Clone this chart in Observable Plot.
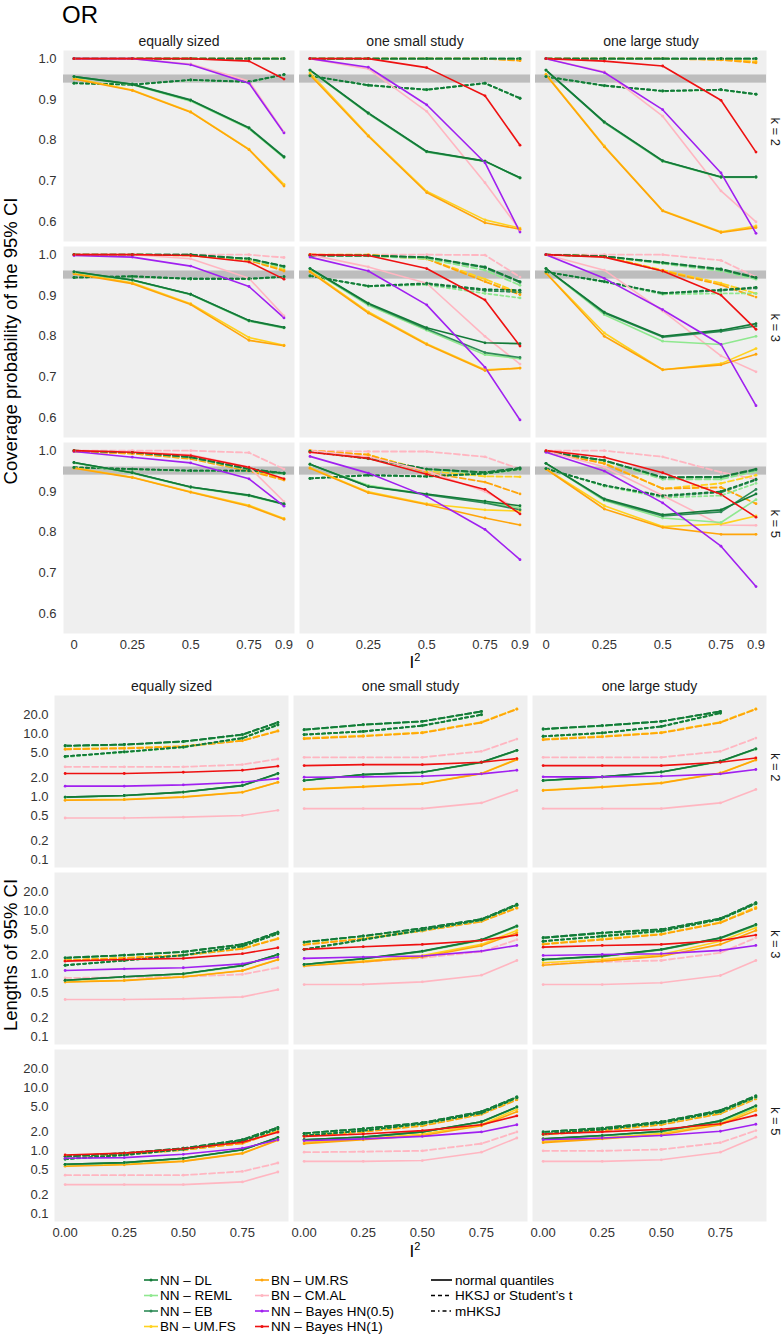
<!DOCTYPE html>
<html><head><meta charset="utf-8">
<script src="https://cdn.jsdelivr.net/npm/d3@7"></script>
<script src="https://cdn.jsdelivr.net/npm/@observablehq/plot@0.6"></script>
<style>
body{margin:0;background:#fff;font-family:"Liberation Sans",Arial,Helvetica,sans-serif;color:#000;}
#wrap{position:relative;width:782px;height:1342px;overflow:hidden;}
#wrap > *{position:absolute;}
.ytitle{font-size:18.5px;white-space:nowrap;transform:translate(-50%,-50%) rotate(-90deg);}
.xtitle{font-size:17px;transform:translate(-50%,-50%);}
.xtitle sup{font-size:11px;}
</style></head><body><div id="wrap"></div>
<script>
// ---------- categories ----------
const designs = ["equally sized", "one small study", "one large study"];
const ks = [2, 3, 5];
const i2 = [0, 0.25, 0.5, 0.75, 0.9];
const methods = ["DL", "REML", "EB", "FS", "RS", "AL", "H05", "H1"];
const methodLabels = ["NN – DL", "NN – REML", "NN – EB", "BN – UM.FS", "BN – UM.RS", "BN – CM.AL", "NN – Bayes HN(0.5)", "NN – Bayes HN(1)"];
const ciTypes = ["n", "h", "m"];
const ciTypeLabels = ["normal quantiles", "HKSJ or Student’s t", "mHKSJ"];
const covTicks = [0.6, 0.7, 0.8, 0.9, 1.0];
const lenTicks = [0.1, 0.2, 0.5, 1, 2, 5, 10, 20];
const covXTicks = [0, 0.25, 0.5, 0.75, 0.9];
const lenXTicks = [0, 0.25, 0.5, 0.75];
const refBand = [{lo: 0.94, hi: 0.96}];

// ---------- coverage probability: [method, CI type, I2=0, .25, .5, .75, .9] ----------
const covES2 = [
  ["DL","n",0.956,0.937,0.898,0.830,0.759],["REML","n",0.955,0.936,0.896,0.828,0.757],["EB","n",0.956,0.938,0.899,0.831,0.760],
  ["DL","h",1,1,1,1,1],["REML","h",1,1,1,1,1],["EB","h",1,1,1,1,1],
  ["DL","m",0.940,0.936,0.948,0.943,0.961],["REML","m",0.940,0.936,0.947,0.943,0.960],["EB","m",0.940,0.937,0.948,0.944,0.961],
  ["FS","n",0.952,0.923,0.870,0.778,0.692],["RS","n",0.950,0.922,0.869,0.777,0.688],
  ["FS","h",1,1,1,1,1],["RS","h",1,1,1,1,1],
  ["AL","n",1,1,0.987,0.945,0.820],["AL","h",1,1,1,1,1],
  ["H05","n",1,1,0.985,0.940,0.818],["H1","n",1,1,1,0.994,0.950]];
const covSS2 = [
  ["DL","n",0.972,0.867,0.773,0.749,0.708],["REML","n",0.971,0.865,0.771,0.748,0.707],["EB","n",0.972,0.866,0.772,0.749,0.708],
  ["DL","h",1,1,1,1,1],["REML","h",1,1,1,1,1],["EB","h",1,1,1,1,1],
  ["DL","m",0.958,0.935,0.924,0.940,0.903],["REML","m",0.958,0.934,0.923,0.939,0.902],["EB","m",0.958,0.935,0.924,0.940,0.903],
  ["FS","n",0.965,0.812,0.675,0.605,0.585],["RS","n",0.960,0.810,0.672,0.598,0.582],
  ["FS","h",1,1,1,1,0.997],["RS","h",1,1,1,1,0.995],
  ["AL","n",1,0.975,0.871,0.696,0.580],["AL","h",1,1,1,1,0.998],
  ["H05","n",1,0.979,0.887,0.745,0.575],["H1","n",1,1,0.978,0.909,0.788]];
const covLS2 = [
  ["DL","n",0.972,0.845,0.750,0.710,0.710],["REML","n",0.971,0.843,0.748,0.709,0.709],["EB","n",0.972,0.844,0.749,0.710,0.710],
  ["DL","h",1,1,1,1,1],["REML","h",1,1,1,1,1],["EB","h",1,1,1,1,1],
  ["DL","m",0.956,0.934,0.921,0.924,0.913],["REML","m",0.956,0.933,0.920,0.923,0.912],["EB","m",0.956,0.934,0.921,0.924,0.913],
  ["FS","n",0.962,0.786,0.628,0.576,0.590],["RS","n",0.960,0.784,0.627,0.574,0.586],
  ["FS","h",1,1,1,0.998,0.993],["RS","h",1,1,1,0.997,0.990],
  ["AL","n",1,0.968,0.859,0.676,0.600],["AL","h",1,1,1,1,0.998],
  ["H05","n",1,0.966,0.875,0.720,0.572],["H1","n",1,0.994,0.982,0.898,0.771]];
const covES3 = [
  ["DL","n",0.958,0.938,0.903,0.839,0.822],["REML","n",0.957,0.937,0.902,0.837,0.820],["EB","n",0.958,0.938,0.903,0.838,0.821],
  ["DL","h",1,1,1,0.990,0.972],["REML","h",1,1,0.999,0.988,0.968],["EB","h",1,1,1,0.990,0.971],
  ["DL","m",0.944,0.947,0.941,0.941,0.946],["REML","m",0.944,0.946,0.940,0.940,0.945],["EB","m",0.944,0.947,0.941,0.941,0.946],
  ["FS","n",0.955,0.931,0.880,0.797,0.778],["RS","n",0.953,0.929,0.878,0.790,0.777],
  ["FS","h",1,1,0.999,0.988,0.963],["RS","h",1,1,0.998,0.986,0.960],
  ["AL","n",1,1,0.990,0.942,0.850],["AL","h",1,1,1,1,0.993],
  ["H05","n",0.998,0.994,0.972,0.922,0.845],["H1","n",1,1,0.998,0.982,0.940]];
const covSS3 = [
  ["DL","n",0.966,0.881,0.821,0.784,0.782],["REML","n",0.965,0.876,0.815,0.755,0.745],["EB","n",0.966,0.879,0.818,0.760,0.748],
  ["DL","h",0.998,0.998,0.994,0.970,0.934],["REML","h",0.998,0.997,0.990,0.962,0.925],["EB","h",0.998,0.998,0.993,0.968,0.932],
  ["DL","m",0.948,0.923,0.930,0.915,0.913],["REML","m",0.948,0.922,0.926,0.905,0.894],["EB","m",0.948,0.923,0.928,0.912,0.908],
  ["FS","n",0.960,0.860,0.782,0.718,0.722],["RS","n",0.958,0.857,0.780,0.716,0.722],
  ["FS","h",1,1,0.990,0.940,0.906],["RS","h",1,0.998,0.990,0.934,0.902],
  ["AL","n",1,0.970,0.930,0.800,0.732],["AL","h",1,1,1,0.999,0.945],
  ["H05","n",0.994,0.960,0.877,0.724,0.595],["H1","n",1,0.998,0.966,0.889,0.776]];
const covLS3 = [
  ["DL","n",0.966,0.859,0.800,0.815,0.831],["REML","n",0.966,0.853,0.788,0.780,0.800],["EB","n",0.966,0.857,0.798,0.812,0.825],
  ["DL","h",1,0.996,0.981,0.965,0.944],["REML","h",1,0.995,0.978,0.960,0.940],["EB","h",1,0.996,0.980,0.963,0.943],
  ["DL","m",0.958,0.934,0.906,0.914,0.920],["REML","m",0.958,0.933,0.903,0.905,0.905],["EB","m",0.958,0.934,0.905,0.912,0.918],
  ["FS","n",0.955,0.808,0.718,0.733,0.770],["RS","n",0.955,0.800,0.718,0.730,0.756],
  ["FS","h",1,0.996,0.962,0.930,0.905],["RS","h",1,0.996,0.960,0.926,0.896],
  ["AL","n",1,0.962,0.862,0.752,0.713],["AL","h",1,1,1,0.986,0.945],
  ["H05","n",1,0.942,0.865,0.780,0.630],["H1","n",1,0.994,0.960,0.901,0.817]];
const covES5 = [
  ["DL","n",0.971,0.946,0.911,0.891,0.869],["REML","n",0.970,0.945,0.910,0.889,0.868],["EB","n",0.971,0.946,0.911,0.890,0.870],
  ["DL","h",1,0.996,0.984,0.955,0.945],["REML","h",1,0.996,0.983,0.953,0.943],["EB","h",1,0.996,0.984,0.955,0.944],
  ["DL","m",0.959,0.955,0.951,0.951,0.945],["REML","m",0.959,0.954,0.950,0.950,0.944],["EB","m",0.959,0.955,0.951,0.951,0.945],
  ["FS","n",0.958,0.935,0.899,0.866,0.834],["RS","n",0.957,0.934,0.898,0.864,0.832],
  ["FS","h",0.998,0.993,0.982,0.953,0.930],["RS","h",0.998,0.993,0.980,0.950,0.928],
  ["AL","n",1,0.998,0.990,0.960,0.875],["AL","h",1,1,1,0.995,0.955],
  ["H05","n",0.998,0.984,0.970,0.931,0.864],["H1","n",1,0.996,0.988,0.959,0.931]];
const covSS5 = [
  ["DL","n",0.967,0.912,0.894,0.876,0.865],["REML","n",0.966,0.915,0.893,0.874,0.860],["EB","n",0.967,0.912,0.892,0.872,0.855],
  ["DL","h",0.998,0.981,0.955,0.947,0.958],["REML","h",0.998,0.980,0.953,0.944,0.955],["EB","h",0.998,0.981,0.955,0.946,0.957],
  ["DL","m",0.932,0.940,0.937,0.944,0.955],["REML","m",0.932,0.939,0.936,0.943,0.954],["EB","m",0.932,0.940,0.937,0.944,0.955],
  ["FS","n",0.958,0.899,0.870,0.855,0.852],["RS","n",0.957,0.897,0.868,0.835,0.818],
  ["FS","h",1,0.990,0.951,0.937,0.936],["RS","h",1,0.990,0.947,0.923,0.894],
  ["AL","n",1,0.985,0.950,0.900,0.855],["AL","h",1,0.998,0.998,0.985,0.955],
  ["H05","n",0.986,0.945,0.888,0.807,0.733],["H1","n",0.996,0.981,0.942,0.905,0.845]];
const covLS5 = [
  ["DL","n",0.969,0.882,0.843,0.855,0.894],["REML","n",0.969,0.878,0.835,0.824,0.880],["EB","n",0.969,0.880,0.840,0.850,0.905],
  ["DL","h",0.998,0.976,0.935,0.936,0.955],["REML","h",0.998,0.975,0.930,0.930,0.950],["EB","h",0.998,0.976,0.934,0.935,0.953],
  ["DL","m",0.956,0.915,0.890,0.900,0.930],["REML","m",0.956,0.913,0.885,0.890,0.920],["EB","m",0.956,0.915,0.888,0.898,0.928],
  ["FS","n",0.955,0.865,0.814,0.820,0.840],["RS","n",0.955,0.857,0.812,0.795,0.795],
  ["FS","h",0.998,0.970,0.907,0.920,0.940],["RS","h",0.998,0.968,0.907,0.910,0.870],
  ["AL","n",1,0.960,0.890,0.818,0.817],["AL","h",1,1,0.985,0.947,0.930],
  ["H05","n",0.996,0.950,0.872,0.766,0.667],["H1","n",1,0.984,0.946,0.893,0.837]];

// ---------- lengths of 95% CI ----------
const lenES2 = [
  ["DL","n",0.99,1.05,1.19,1.51,2.35],["REML","n",0.98,1.04,1.18,1.50,2.30],["EB","n",0.99,1.05,1.19,1.52,2.36],
  ["DL","h",6.5,6.8,7.6,9.8,15.3],["REML","h",6.4,6.7,7.5,9.6,15.0],["EB","h",6.5,6.8,7.6,9.8,15.3],
  ["DL","m",4.4,5.2,6.2,8.6,14.0],["REML","m",4.3,5.1,6.1,8.5,13.8],["EB","m",4.4,5.2,6.2,8.6,14.0],
  ["FS","n",0.89,0.91,1.0,1.19,1.71],["RS","n",0.88,0.90,0.99,1.18,1.70],
  ["FS","h",5.8,6.0,6.4,7.9,11.3],["RS","h",5.7,5.9,6.3,7.8,11.1],
  ["AL","n",0.46,0.46,0.475,0.505,0.61],["AL","h",3.0,3.0,3.0,3.26,4.0],
  ["H05","n",1.48,1.48,1.55,1.71,1.95],["H1","n",2.35,2.35,2.46,2.65,3.07]];
const lenSS2 = [
  ["DL","n",1.82,2.26,2.46,3.55,5.5],["REML","n",1.80,2.24,2.44,3.50,5.4],["EB","n",1.82,2.26,2.46,3.55,5.5],
  ["DL","h",11.7,14.1,15.9,22.9,null],["REML","h",11.5,13.9,15.7,22.5,null],["EB","h",11.7,14.1,15.9,22.9,null],
  ["DL","m",9.8,11.0,13.6,20.3,null],["REML","m",9.7,10.9,13.4,20.0,null],["EB","m",9.8,11.0,13.6,20.3,null],
  ["FS","n",1.33,1.46,1.63,2.36,4.0],["RS","n",1.31,1.44,1.61,2.34,3.9],
  ["FS","h",8.6,9.4,10.6,15.5,25.2],["RS","h",8.4,9.2,10.4,15.2,24.8],
  ["AL","n",0.65,0.65,0.65,0.80,1.26],["AL","h",4.26,4.26,4.26,5.3,8.3],
  ["H05","n",2.05,2.08,2.13,2.32,2.65],["H1","n",3.14,3.26,3.26,3.55,4.06]];
const lenLS2 = [
  ["DL","n",1.82,2.08,2.49,3.68,5.8],["REML","n",1.80,2.06,2.46,3.62,5.7],["EB","n",1.82,2.08,2.49,3.68,5.8],
  ["DL","h",12.0,13.6,15.9,22.9,null],["REML","h",11.8,13.4,15.7,22.5,null],["EB","h",12.0,13.6,15.9,22.9,null],
  ["DL","m",9.2,10.4,13.2,21.6,null],["REML","m",9.1,10.3,13.0,21.2,null],["EB","m",9.2,10.4,13.2,21.6,null],
  ["FS","n",1.28,1.44,1.67,2.40,3.9],["RS","n",1.26,1.42,1.65,2.38,3.85],
  ["FS","h",8.3,9.2,10.6,15.5,25.2],["RS","h",8.1,9.0,10.4,15.2,24.8],
  ["AL","n",0.65,0.65,0.65,0.80,1.31],["AL","h",4.26,4.26,4.26,5.3,8.6],
  ["H05","n",2.08,2.08,2.13,2.32,2.72],["H1","n",3.14,3.14,3.14,3.55,4.16]];
const lenES3 = [
  ["DL","n",0.79,0.90,1.0,1.36,2.03],["REML","n",0.78,0.89,0.99,1.34,2.0],["EB","n",0.79,0.90,1.0,1.36,2.03],
  ["DL","h",1.8,1.98,2.24,2.94,4.6],["REML","h",1.78,1.96,2.22,2.9,4.5],["EB","h",1.8,1.98,2.24,2.94,4.6],
  ["DL","m",1.37,1.63,1.98,2.76,4.35],["REML","m",1.36,1.62,1.96,2.72,4.3],["EB","m",1.37,1.63,1.98,2.76,4.35],
  ["FS","n",0.745,0.79,0.90,1.13,1.69],["RS","n",0.74,0.78,0.89,1.12,1.67],
  ["FS","h",1.65,1.8,1.98,2.54,3.66],["RS","h",1.63,1.78,1.96,2.5,3.6],
  ["AL","n",0.39,0.39,0.40,0.43,0.56],["AL","h",0.86,0.88,0.90,0.98,1.25],
  ["H05","n",1.13,1.2,1.25,1.44,1.85],["H1","n",1.59,1.69,1.76,2.09,2.6]];
const lenSS3 = [
  ["DL","n",1.41,1.75,2.3,3.5,5.8],["REML","n",1.40,1.72,2.25,3.4,5.6],["EB","n",1.41,1.74,2.28,3.45,5.7],
  ["DL","h",3.2,4.0,5.3,7.4,12.8],["REML","h",3.15,3.95,5.2,7.3,12.5],["EB","h",3.2,4.0,5.3,7.4,12.7],
  ["DL","m",2.45,3.5,5.0,7.2,12.4],["REML","m",2.4,3.45,4.9,7.1,12.2],["EB","m",2.45,3.5,5.0,7.2,12.4],
  ["FS","n",1.35,1.6,1.95,2.94,4.9],["RS","n",1.33,1.55,1.85,2.8,4.5],
  ["FS","h",2.95,3.65,4.9,6.9,11.4],["RS","h",2.9,3.6,4.8,6.8,11.1],
  ["AL","n",0.675,0.68,0.745,0.95,1.63],["AL","h",1.35,1.55,1.8,2.25,3.5],
  ["H05","n",1.76,1.85,1.92,2.3,2.83],["H1","n",2.45,2.7,2.94,3.4,4.14]];
const lenLS3 = [
  ["DL","n",1.69,1.91,2.45,3.75,6.1],["REML","n",1.67,1.88,2.4,3.65,5.9],["EB","n",1.69,1.9,2.43,3.7,6.0],
  ["DL","h",3.75,4.5,5.1,7.6,13.6],["REML","h",3.7,4.4,5.0,7.5,13.3],["EB","h",3.75,4.5,5.1,7.6,13.5],
  ["DL","m",3.3,3.99,4.8,7.4,13.1],["REML","m",3.25,3.9,4.7,7.3,12.9],["EB","m",3.3,3.99,4.8,7.4,13.1],
  ["FS","n",1.5,1.69,2.03,3.3,5.4],["RS","n",1.37,1.59,1.91,2.94,4.9],
  ["FS","h",3.0,3.6,4.3,6.6,11.5],["RS","h",2.94,3.5,4.24,6.5,11.0],
  ["AL","n",0.675,0.675,0.72,0.94,1.63],["AL","h",1.44,1.55,1.63,2.16,3.75],
  ["H05","n",1.96,2.03,2.09,2.36,2.83],["H1","n",2.66,2.83,2.94,3.4,4.14]];
const lenES5 = [
  ["DL","n",0.61,0.65,0.76,1.04,1.63],["REML","n",0.60,0.64,0.75,1.03,1.6],["EB","n",0.61,0.65,0.76,1.04,1.63],
  ["DL","h",0.81,0.92,1.1,1.5,2.36],["REML","h",0.80,0.91,1.09,1.48,2.32],["EB","h",0.81,0.92,1.1,1.5,2.36],
  ["DL","m",0.74,0.86,1.06,1.44,2.24],["REML","m",0.73,0.85,1.05,1.42,2.2],["EB","m",0.74,0.86,1.06,1.44,2.24],
  ["FS","n",0.58,0.61,0.69,0.92,1.5],["RS","n",0.57,0.60,0.68,0.91,1.48],
  ["FS","h",0.83,0.88,1.04,1.33,2.08],["RS","h",0.82,0.87,1.03,1.31,2.05],
  ["AL","n",0.29,0.29,0.29,0.32,0.46],["AL","h",0.41,0.41,0.41,0.47,0.64],
  ["H05","n",0.76,0.78,0.88,1.1,1.5],["H1","n",0.86,0.92,1.08,1.37,1.98]];
const lenSS5 = [
  ["DL","n",1.5,1.65,2.0,2.9,5.0],["REML","n",1.5,1.65,2.0,2.85,4.9],["EB","n",1.5,1.66,2.0,2.9,5.0],
  ["DL","h",1.9,2.25,2.8,4.2,7.2],["REML","h",1.88,2.22,2.75,4.1,7.0],["EB","h",1.9,2.25,2.8,4.2,7.2],
  ["DL","m",1.75,2.1,2.7,4.0,7.0],["REML","m",1.73,2.08,2.65,3.95,6.9],["EB","m",1.75,2.1,2.7,4.0,7.0],
  ["FS","n",1.35,1.55,1.85,2.6,4.6],["RS","n",1.3,1.5,1.75,2.5,4.2],
  ["FS","h",1.75,2.05,2.55,3.9,6.8],["RS","h",1.7,2.0,2.5,3.8,6.5],
  ["AL","n",0.68,0.68,0.70,0.95,1.6],["AL","h",0.95,0.97,1.0,1.3,2.0],
  ["H05","n",1.45,1.55,1.7,2.0,2.6],["H1","n",1.7,1.85,2.1,2.6,3.6]];
const lenLS5 = [
  ["DL","n",1.55,1.75,2.05,3.0,5.2],["REML","n",1.54,1.73,2.0,2.9,5.0],["EB","n",1.55,1.75,2.05,3.0,5.2],
  ["DL","h",2.0,2.3,2.9,4.4,7.5],["REML","h",1.98,2.28,2.85,4.3,7.3],["EB","h",2.0,2.3,2.9,4.4,7.5],
  ["DL","m",1.85,2.2,2.8,4.2,7.2],["REML","m",1.83,2.18,2.75,4.1,7.0],["EB","m",1.85,2.2,2.8,4.2,7.2],
  ["FS","n",1.4,1.6,1.9,2.7,4.8],["RS","n",1.35,1.55,1.8,2.6,4.4],
  ["FS","h",1.85,2.15,2.65,4.0,7.0],["RS","h",1.8,2.1,2.6,3.9,6.7],
  ["AL","n",0.68,0.68,0.72,0.95,1.65],["AL","h",1.0,1.0,1.05,1.35,2.1],
  ["H05","n",1.5,1.6,1.75,2.05,2.65],["H1","n",1.85,2.0,2.2,2.7,3.7]];

// ---------- styles ----------
const methodColors = ["#127a38", "#8fe88f", "#2e8b57", "#ffd21f", "#ffa50a", "#ffb6c1", "#a020f0", "#ee1111"];
const dashes = {n: null, h: "6,3", m: "3,3"};
const drawOrder = ["AL", "FS", "RS", "REML", "EB", "DL", "H05", "H1"];
const font = '"Liberation Sans", Arial, Helvetica, sans-serif';

// ---------- build long tables ----------
function expand(rows, design, k) {
  const out = [];
  for (const r of rows) {
    const [m, t, ...vals] = r;
    vals.forEach((v, i) => { if (v != null) out.push({method: m, type: t, series: m + "-" + t, design, k, x: i2[i], v}); });
  }
  return out;
}
function build(grid) {
  let out = [];
  grid.forEach((row, ri) => row.forEach((rows, ci) => { out = out.concat(expand(rows, designs[ci], ks[ri])); }));
  out.sort((a, b) => drawOrder.indexOf(a.method) - drawOrder.indexOf(b.method));
  return out;
}
const covData = build([[covES2, covSS2, covLS2], [covES3, covSS3, covLS3], [covES5, covSS5, covLS5]]);
const lenData = build([[lenES2, lenSS2, lenLS2], [lenES3, lenSS3, lenLS3], [lenES5, lenSS5, lenLS5]]);

function seriesMarks(data) {
  const marks = ["h", "m", "n"].map(t => Plot.line(data.filter(d => d.type === t), {
    x: "x", y: "v", z: "series", stroke: "method", fx: "design", fy: "k",
    strokeWidth: t === "n" ? 1.6 : 1.8, strokeDasharray: dashes[t]
  }));
  marks.push(Plot.dot(data, {x: "x", y: "v", fill: "method", r: 1.4, fx: "design", fy: "k"}));
  return marks;
}
function stripLabels() {
  return Plot.text(ks, {fx: () => designs[2], fy: d => d, text: d => `k = ${d}`, frameAnchor: "right", dx: 9, rotate: 90, fontSize: 13, fill: "#1a1a1a"});
}
function yTickLabels(ticks, fmt, pad) {
  return Plot.text(ticks, {fx: () => designs[0], y: d => d, text: d => d3.format(fmt)(d), frameAnchor: "left", textAnchor: "end", dx: -pad, fontSize: 13, fill: "#333"});
}
function common(opts) {
  return Object.assign({
    width: 782,
    style: {fontFamily: font, fontSize: "13px", background: "transparent", color: "#333"},
    color: {domain: methods, range: methodColors},
  }, opts);
}
const xDomain = [-0.045, 0.945];

const topPlot = Plot.plot(common({
  height: 662, marginTop: 49, marginBottom: 28, marginLeft: 63, marginRight: 15,
  x: {domain: xDomain, label: null},
  y: {domain: [0.552, 1.02], label: null, axis: null},
  fx: {domain: designs, paddingInner: 0.021, paddingOuter: 0, label: null},
  fy: {domain: ks, paddingInner: 0.0254, paddingOuter: 0, label: null, axis: null},
  marks: [
    Plot.frame({fill: "#efefef", stroke: null}),
    Plot.rect(refBand, {y1: "lo", y2: "hi", fill: "#bdbdbd"}),
    Plot.axisX({ticks: covXTicks, tickFormat: d => String(d), tickSize: 0, tickPadding: 6, label: null, fontSize: 13}),
    yTickLabels(covTicks, ".1f", 7),
    Plot.axisFx({anchor: "top", tickSize: 0, tickPadding: 5, label: null, fontSize: 14, fill: "#1a1a1a"}),
    stripLabels(),
    ...seriesMarks(covData)
  ]
}));

const bottomPlot = Plot.plot(common({
  height: 600, marginTop: 32, marginBottom: 41, marginLeft: 53, marginRight: 15,
  x: {domain: xDomain, label: null},
  y: {type: "log", domain: [0.075, 41], label: null, axis: null},
  fx: {domain: designs, paddingInner: 0.0208, paddingOuter: 0, label: null},
  fy: {domain: ks, paddingInner: 0.031, paddingOuter: 0, label: null, axis: null},
  marks: [
    Plot.frame({fill: "#efefef", stroke: null}),
    Plot.axisX({ticks: lenXTicks, tickFormat: ".2f", tickSize: 0, tickPadding: 6, label: null, fontSize: 13}),
    yTickLabels(lenTicks, ".1f", 6),
    Plot.axisFx({anchor: "top", tickSize: 0, tickPadding: 5, label: null, fontSize: 14, fill: "#1a1a1a"}),
    stripLabels(),
    ...seriesMarks(lenData)
  ]
}));

const wrap = document.getElementById("wrap");
topPlot.style.left = "0px"; topPlot.style.top = "0px";
bottomPlot.style.left = "0px"; bottomPlot.style.top = "662px";
wrap.appendChild(topPlot);
wrap.appendChild(bottomPlot);

function addDiv(html, css, cls) {
  const d = document.createElement("div");
  d.innerHTML = html;
  if (cls) d.className = cls;
  Object.assign(d.style, css);
  wrap.appendChild(d);
  return d;
}
addDiv("OR", {left: "62px", top: "1px", fontSize: "24px", lineHeight: "28px"});
addDiv("Coverage probability of the 95% CI", {left: "11px", top: "341px"}, "ytitle");
addDiv("Lengths of 95% CI", {left: "11px", top: "955px"}, "ytitle");
addDiv("I<sup>2</sup>", {left: "415px", top: "662px"}, "xtitle");
addDiv("I<sup>2</sup>", {left: "415px", top: "1251px"}, "xtitle");

// ---------- legend ----------
const leg = d3.create("svg").attr("width", 782).attr("height", 80)
  .style("left", "0px").style("top", "1266px").style("font-family", font);
const rowY = i => 14 + i * 15.5;
const colorCols = [{sx: 144, tx: 160, items: [0, 1, 2, 3]}, {sx: 255, tx: 271, items: [4, 5, 6, 7]}];
colorCols.forEach(c => c.items.forEach((mi, r) => {
  const y = rowY(r);
  leg.append("line").attr("x1", c.sx).attr("x2", c.sx + 14).attr("y1", y).attr("y2", y)
    .attr("stroke", methodColors[mi]).attr("stroke-width", 1.6);
  leg.append("circle").attr("cx", c.sx + 7).attr("cy", y).attr("r", 1.5).attr("fill", methodColors[mi]);
  leg.append("text").attr("x", c.tx).attr("y", y).attr("dy", "0.36em").attr("font-size", 13.5).text(methodLabels[mi]);
}));
ciTypes.forEach((t, r) => {
  const y = rowY(r);
  leg.append("line").attr("x1", 431).attr("x2", 452).attr("y1", y).attr("y2", y)
    .attr("stroke", "#000").attr("stroke-width", 1.6).attr("stroke-dasharray", dashes[t] ? (t === "h" ? "4,3" : "4,3,1.5,3") : null);
  leg.append("text").attr("x", 455).attr("y", y).attr("dy", "0.36em").attr("font-size", 13.5).text(ciTypeLabels[r]);
});
wrap.appendChild(leg.node());
</script></body></html>
